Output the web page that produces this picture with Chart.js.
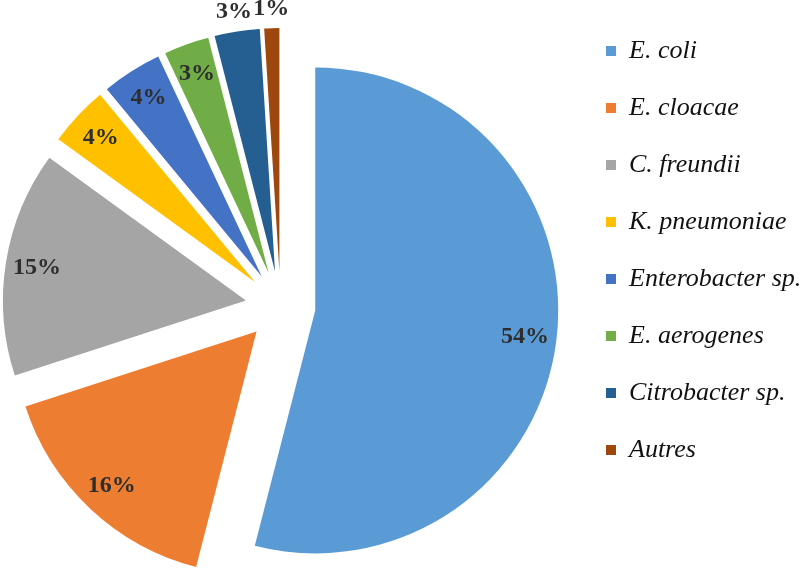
<!DOCTYPE html>
<html>
<head>
<meta charset="utf-8">
<script src="https://cdn.jsdelivr.net/npm/chart.js@4"></script>
<style>
  body { margin: 0; background: #fff; width: 800px; height: 573px; overflow: hidden; }
  /* canvas is a bit wider than the page so the pie sits further left */
  #myChart { display: block; margin-left: -14px; }
</style>
</head>
<body>
<canvas id="myChart" width="814" height="573"></canvas>
<script>
const species = [
  "E. coli",
  "E. cloacae",
  "C. freundii",
  "K. pneumoniae",
  "Enterobacter sp.",
  "E. aerogenes",
  "Citrobacter sp.",
  "Autres",
];
const percents = [54, 16, 15, 4, 4, 3, 3, 1];
const sliceColors = [
  "#5b9bd5",
  "#ed7d31",
  "#a5a5a5",
  "#ffc000",
  "#4472c4",
  "#70ad47",
  "#255e91",
  "#9e480e",
];

const RADIUS = 243;
const EXPLODE = 35; // px every slice is pulled out
// labels drawn outside the slice (too thin to hold them)
const outsideIdx = [6, 7];

// pull every slice out along its bisector (chart.js "offset" also trims
// the arcs, so the shift is done here after each update instead)
const explode = {
  id: "explode",
  afterDatasetsUpdate(chart) {
    chart.getDatasetMeta(0).data.forEach((arc) => {
      const mid = (arc.startAngle + arc.endAngle) / 2;
      arc.x += Math.cos(mid) * EXPLODE;
      arc.y += Math.sin(mid) * EXPLODE;
    });
  },
};

const pctLabels = {
  id: "pctLabels",
  afterDatasetsDraw(chart) {
    const ctx = chart.ctx;
    const meta = chart.getDatasetMeta(0);
    ctx.save();
    ctx.font = "bold 24px 'Liberation Serif', 'Times New Roman', serif";
    ctx.fillStyle = "#2e2e2e";
    ctx.textAlign = "center";
    ctx.textBaseline = "middle";
    meta.data.forEach((arc, i) => {
      const mid = (arc.startAngle + arc.endAngle) / 2;
      const f = outsideIdx.includes(i) ? 1.08 : 0.87;
      const d = arc.outerRadius * f;
      ctx.fillText(percents[i] + "%", arc.x + Math.cos(mid) * d, arc.y + Math.sin(mid) * d);
    });
    ctx.restore();
  },
};

const myChart = document.getElementById("myChart").getContext("2d");

const pieChart = new Chart(myChart, {
  type: "pie",
  data: {
    labels: species,
    datasets: [
      {
        data: percents,
        backgroundColor: sliceColors,
        borderWidth: 0,
        hoverOffset: 0,
      },
    ],
  },
  options: {
    responsive: false,
    animation: false,
    events: [],
    radius: RADIUS,
    layout: {
      padding: { top: 7, left: 0, right: 0, bottom: 6.5 },
    },
    plugins: {
      // empty title used as a spacer above the pie
      title: {
        display: true,
        text: "",
        padding: 0,
        font: { size: 38.5, lineHeight: 1 },
      },
      legend: {
        position: "right",
        align: "start",
        maxWidth: 225,
        labels: {
          boxWidth: 10,
          boxHeight: 10,
          padding: 31,
          color: "#111",
          font: {
            size: 26,
            style: "italic",
            family: "'Liberation Serif', 'Times New Roman', serif",
          },
        },
      },
      tooltip: { enabled: false },
    },
  },
  plugins: [explode, pctLabels],
});
</script>
</body>
</html>
